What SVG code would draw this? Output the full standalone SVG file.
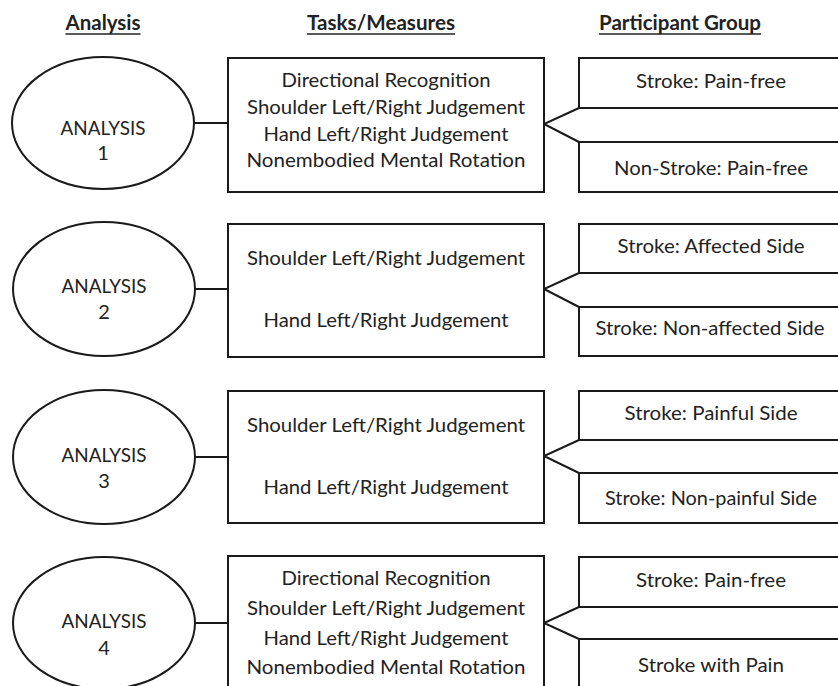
<svg xmlns="http://www.w3.org/2000/svg" width="838" height="686" viewBox="0 0 838 686">
<style>
.t{font-family:Lato,"Open Sans","Liberation Sans",sans-serif;font-size:20px;fill:#222;text-anchor:middle}
.h{font-weight:bold}
.s{fill:#fff;stroke:#1a1a1a;stroke-width:2}
.c{fill:none;stroke:#1a1a1a;stroke-width:2}
.u{stroke:#222;stroke-width:1.5}
</style>
<rect width="838" height="686" fill="#fff"/>
<g id="headers">
<text class="t h" x="103" y="30" textLength="75" lengthAdjust="spacingAndGlyphs">Analysis</text>
<line class="u" x1="65.500" y1="34" x2="140.500" y2="34"/>
<text class="t h" x="381" y="30" textLength="148" lengthAdjust="spacingAndGlyphs">Tasks/Measures</text>
<line class="u" x1="307" y1="34" x2="455" y2="34"/>
<text class="t h" x="680" y="30" textLength="162" lengthAdjust="spacingAndGlyphs">Participant Group</text>
<line class="u" x1="599" y1="34" x2="761" y2="34"/>
</g>
<g id="connectors">
<line class="c" x1="194" y1="123" x2="228" y2="123"/>
<line class="c" x1="195" y1="289" x2="228" y2="289"/>
<line class="c" x1="195" y1="457" x2="228" y2="457"/>
<line class="c" x1="195" y1="623" x2="228" y2="623"/>
<polyline class="c" points="579,108 544,124 579,142"/>
<polyline class="c" points="579,273 544,289 579,307"/>
<polyline class="c" points="579,440 544,456 579,473"/>
<polyline class="c" points="579,607 544,623 579,639"/>
</g>
<g id="analysis1">
<ellipse class="s" cx="103" cy="123" rx="91" ry="66"/>
<text class="t" x="103" y="135" textLength="85" lengthAdjust="spacingAndGlyphs">ANALYSIS</text>
<text class="t" x="103" y="160">1</text>
</g>
<g id="analysis2">
<ellipse class="s" cx="104" cy="289" rx="91" ry="67"/>
<text class="t" x="104" y="293" textLength="85" lengthAdjust="spacingAndGlyphs">ANALYSIS</text>
<text class="t" x="104" y="319">2</text>
</g>
<g id="analysis3">
<ellipse class="s" cx="104" cy="457" rx="91" ry="67"/>
<text class="t" x="104" y="462" textLength="85" lengthAdjust="spacingAndGlyphs">ANALYSIS</text>
<text class="t" x="104" y="488">3</text>
</g>
<g id="analysis4">
<ellipse class="s" cx="104" cy="623" rx="91" ry="66"/>
<text class="t" x="104" y="628" textLength="85" lengthAdjust="spacingAndGlyphs">ANALYSIS</text>
<text class="t" x="104" y="655">4</text>
</g>
<g id="tasks1">
<rect class="s" x="228" y="58" width="316" height="134"/>
<text class="t" x="386" y="87" textLength="209" lengthAdjust="spacingAndGlyphs">Directional Recognition</text>
<text class="t" x="386" y="114" textLength="278" lengthAdjust="spacingAndGlyphs">Shoulder Left/Right Judgement</text>
<text class="t" x="386" y="141" textLength="245" lengthAdjust="spacingAndGlyphs">Hand Left/Right Judgement</text>
<text class="t" x="386" y="167" textLength="279" lengthAdjust="spacingAndGlyphs">Nonembodied Mental Rotation</text>
</g>
<g id="tasks2">
<rect class="s" x="228" y="224" width="316" height="133"/>
<text class="t" x="386" y="265" textLength="278" lengthAdjust="spacingAndGlyphs">Shoulder Left/Right Judgement</text>
<text class="t" x="386" y="327" textLength="245" lengthAdjust="spacingAndGlyphs">Hand Left/Right Judgement</text>
</g>
<g id="tasks3">
<rect class="s" x="228" y="391" width="316" height="132"/>
<text class="t" x="386" y="432" textLength="278" lengthAdjust="spacingAndGlyphs">Shoulder Left/Right Judgement</text>
<text class="t" x="386" y="494" textLength="245" lengthAdjust="spacingAndGlyphs">Hand Left/Right Judgement</text>
</g>
<g id="tasks4">
<rect class="s" x="228" y="556" width="316" height="140"/>
<text class="t" x="386" y="585" textLength="209" lengthAdjust="spacingAndGlyphs">Directional Recognition</text>
<text class="t" x="386" y="615" textLength="278" lengthAdjust="spacingAndGlyphs">Shoulder Left/Right Judgement</text>
<text class="t" x="386" y="645" textLength="245" lengthAdjust="spacingAndGlyphs">Hand Left/Right Judgement</text>
<text class="t" x="386" y="674" textLength="279" lengthAdjust="spacingAndGlyphs">Nonembodied Mental Rotation</text>
</g>
<g id="group1a">
<rect class="s" x="579" y="58" width="280" height="50"/>
<text class="t" x="711" y="88" textLength="150" lengthAdjust="spacingAndGlyphs">Stroke: Pain-free</text>
</g>
<g id="group1b">
<rect class="s" x="579" y="142" width="280" height="50"/>
<text class="t" x="711" y="175" textLength="194" lengthAdjust="spacingAndGlyphs">Non-Stroke: Pain-free</text>
</g>
<g id="group2a">
<rect class="s" x="579" y="224" width="280" height="49"/>
<text class="t" x="711" y="253" textLength="187" lengthAdjust="spacingAndGlyphs">Stroke: Affected Side</text>
</g>
<g id="group2b">
<rect class="s" x="579" y="307" width="280" height="49"/>
<text class="t" x="710" y="335" textLength="229" lengthAdjust="spacingAndGlyphs">Stroke: Non-affected Side</text>
</g>
<g id="group3a">
<rect class="s" x="579" y="391" width="280" height="49"/>
<text class="t" x="711" y="420" textLength="173" lengthAdjust="spacingAndGlyphs">Stroke: Painful Side</text>
</g>
<g id="group3b">
<rect class="s" x="579" y="473" width="280" height="50"/>
<text class="t" x="711" y="505" textLength="212" lengthAdjust="spacingAndGlyphs">Stroke: Non-painful Side</text>
</g>
<g id="group4a">
<rect class="s" x="579" y="557" width="280" height="50"/>
<text class="t" x="711" y="587" textLength="150" lengthAdjust="spacingAndGlyphs">Stroke: Pain-free</text>
</g>
<g id="group4b">
<rect class="s" x="579" y="639" width="280" height="60"/>
<text class="t" x="711" y="672" textLength="146" lengthAdjust="spacingAndGlyphs">Stroke with Pain</text>
</g>
</svg>
